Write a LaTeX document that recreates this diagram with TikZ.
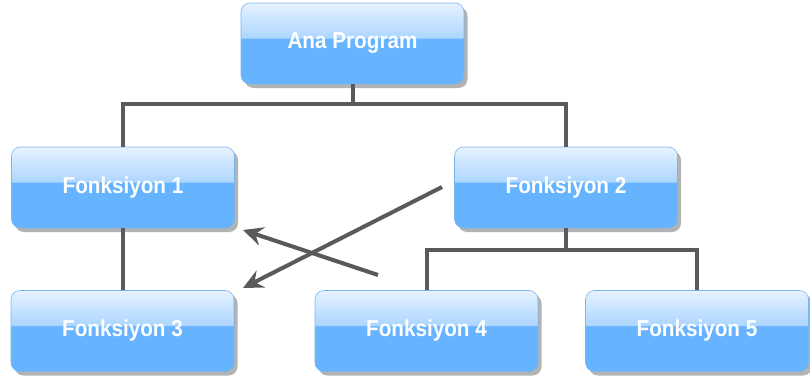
\documentclass[tikz,border=0pt]{standalone}
\usepackage{fontspec}
\setmainfont{Liberation Sans}
\usetikzlibrary{arrows.meta,shadows}

\definecolor{gltop}{HTML}{E6F2FF}
\definecolor{glmid}{HTML}{ADD6FF}
\definecolor{glbot}{HTML}{66B3FF}
\definecolor{glrim}{HTML}{7DB4EA}
\definecolor{wire}{HTML}{5A5A5A}

% glossy blue fill: pale upper part, solid blue lower part
\pgfdeclareverticalshading{gloss}{100bp}{color(0bp)=(glbot); color(25bp)=(glbot); color(53bp)=(glbot); color(53.6bp)=(glmid); color(75bp)=(gltop); color(100bp)=(gltop)}

% condensed bold label text
\newcommand\boxlabel[1]{\scalebox{0.9}[1]{#1}}

\tikzset{
  fbox/.style={draw=glrim, line width=0.6pt, rounded corners=9pt,
    shading=gloss, minimum width=223pt, minimum height=81pt,
    text=white, font=\fontsize{23}{27}\selectfont\bfseries,
    drop shadow={shadow xshift=3.5pt, shadow yshift=-4pt, fill=black!40, opacity=0.75}},
  wireline/.style={draw=wire, line width=4pt},
  arrline/.style={draw=wire, line width=4pt,
    -{Stealth[length=20pt, width=19pt, inset=7pt]}}
}

\begin{document}
\begin{tikzpicture}[x=1pt, y=-1pt]
  \useasboundingbox (0,0) rectangle (810,383);

  % levels of the two horizontal buses
  \coordinate (busa) at (0,104);
  \coordinate (busb) at (0,250);

  \node[fbox] (ana) at (352.5,43.5) {\boxlabel{Ana Program}};
  \node[fbox] (f1) at (123,187.5) {\boxlabel{Fonksiyon 1}};
  \node[fbox] (f2) at (566,187.5) {\boxlabel{Fonksiyon 2}};
  \node[fbox] (f3) at (122.5,331) {\boxlabel{Fonksiyon 3}};
  \node[fbox] (f4) at (426.5,331) {\boxlabel{Fonksiyon 4}};
  \node[fbox] (f5) at (697,331) {\boxlabel{Fonksiyon 5}};

  % connectors of the call tree
  \draw[wireline] (ana.south) -- (ana.south |- busa) -| (f1.north);
  \draw[wireline] (ana.south |- busa) -| (f2.north);
  \draw[wireline] (f1.south) -- (f1.south |- f3.north);
  \draw[wireline] (f2.south) -- (f2.south |- busb) -| (f4.north);
  \draw[wireline] (f2.south |- busb) -| (f5.north);

  % crossing arrows
  \coordinate (s1) at (442,187);
  \coordinate (e1) at (243,288);
  \coordinate (s2) at (378,275);
  \coordinate (e2) at (243,230);
  \draw[arrline] (s1) -- (e1);
  \draw[arrline] (s2) -- (e2);
\end{tikzpicture}
\end{document}
